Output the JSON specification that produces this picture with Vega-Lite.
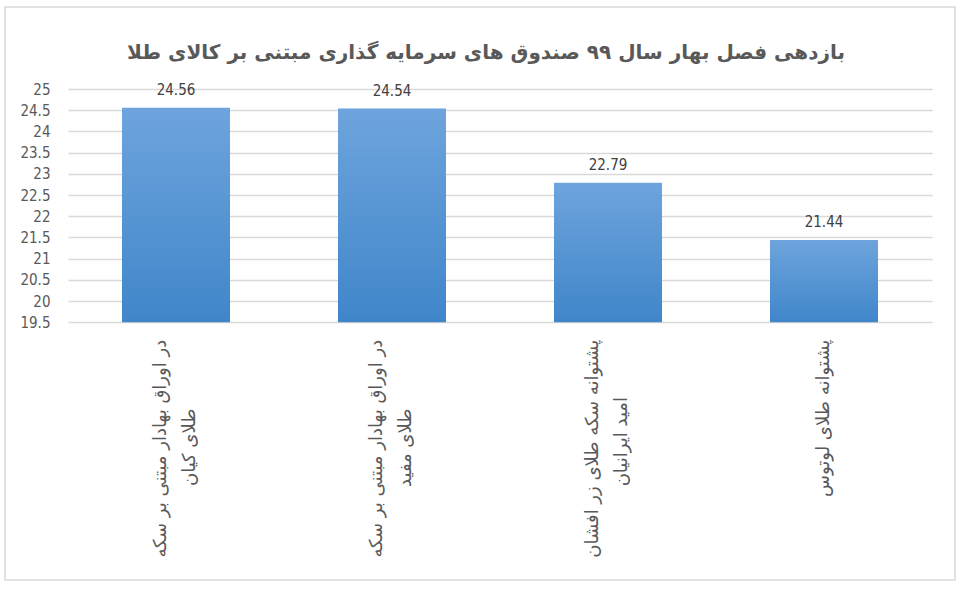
{
  "$schema": "https://vega.github.io/schema/vega-lite/v6.json",
  "width": 950,
  "height": 573,
  "autosize": "none",
  "padding": {"left": 5, "top": 7, "right": 10, "bottom": 9},
  "background": "white",
  "title": {
    "text": "بازدهی فصل بهار سال ۹۹ صندوق های سرمایه گذاری مبتنی بر کالای طلا",
    "font": "DejaVu Sans",
    "fontSize": 20,
    "fontWeight": "bold",
    "color": "#595959",
    "anchor": "middle",
    "frame": "group",
    "baseline": "alphabetic",
    "offset": -72,
    "dx": 6
  },
  "data": {
    "values": [
      {"fund": "در اوراق بهادار مبتنی بر سکه|طلای کیان\u00a0\u00a0\u00a0\u00a0\u00a0\u00a0\u00a0\u00a0\u00a0\u00a0\u00a0\u00a0\u200e", "value": 24.56},
      {"fund": "در اوراق بهادار مبتنی بر سکه|طلای مفید\u00a0\u00a0\u00a0\u00a0\u00a0\u00a0\u00a0\u00a0\u00a0\u00a0\u00a0\u00a0\u200e", "value": 24.54},
      {"fund": "پشتوانه سکه طلای زر افشان|امید ایرانیان\u00a0\u00a0\u00a0\u00a0\u00a0\u00a0\u00a0\u00a0\u00a0\u00a0\u200e", "value": 22.79},
      {"fund": "پشتوانه طلای لوتوس", "value": 21.44}
    ]
  },
  "encoding": {
    "x": {
      "field": "fund",
      "type": "nominal",
      "sort": null,
      "scale": {"range": [63, 927], "paddingInner": 0.5, "paddingOuter": 0.25},
      "axis": {
        "title": null,
        "orient": "bottom",
        "offset": -257.7,
        "domain": false,
        "ticks": false,
        "tickSize": 0,
        "grid": false,
        "labelAngle": -90,
        "labelAlign": "right",
        "labelBaseline": "middle",
        "labelPadding": 17,
        "labelOffset": {"condition": {"test": "indexof(datum.label, '|') >= 0", "value": -15}, "value": 0},
        "labelFont": "DejaVu Sans",
        "labelFontSize": 18,
        "labelColor": "#595959",
        "labelLineHeight": 29,
        "labelLimit": 400,
        "labelExpr": "split(datum.label, '|')"
      }
    }
  },
  "layer": [
    {
      "mark": {
        "type": "bar",
        "color": {
          "gradient": "linear",
          "x1": 0, "y1": 0, "x2": 0, "y2": 1,
          "stops": [
            {"offset": 0, "color": "#6ea4dd"},
            {"offset": 1, "color": "#3f86c9"}
          ]
        }
      },
      "encoding": {
        "y": {
          "field": "value",
          "type": "quantitative",
          "scale": {"domain": [19.5, 25], "range": [315.3, 82], "zero": false, "nice": false},
          "axis": {
            "title": null,
            "orient": "left",
            "offset": -63,
            "values": [19.5, 20, 20.5, 21, 21.5, 22, 22.5, 23, 23.5, 24, 24.5, 25],
            "format": "~g",
            "domain": false,
            "ticks": false,
            "tickSize": 0,
            "grid": true,
            "gridColor": "#d9d9d9",
            "gridWidth": 1.5,
            "labelPadding": 18,
            "labelFont": "DejaVu Sans Condensed",
            "labelFontSize": 15,
            "labelColor": "#595959"
          }
        },
        "y2": {"datum": 19.5}
      }
    },
    {
      "mark": {
        "type": "text",
        "baseline": "alphabetic",
        "dy": -13,
        "font": "DejaVu Sans Condensed",
        "fontSize": 15,
        "color": "#404040"
      },
      "encoding": {
        "y": {"field": "value", "type": "quantitative"},
        "text": {"field": "value", "type": "quantitative", "format": ".2f"}
      }
    }
  ],
  "config": {
    "view": {"stroke": "#d9d9d9", "strokeWidth": 1.5}
  }
}
